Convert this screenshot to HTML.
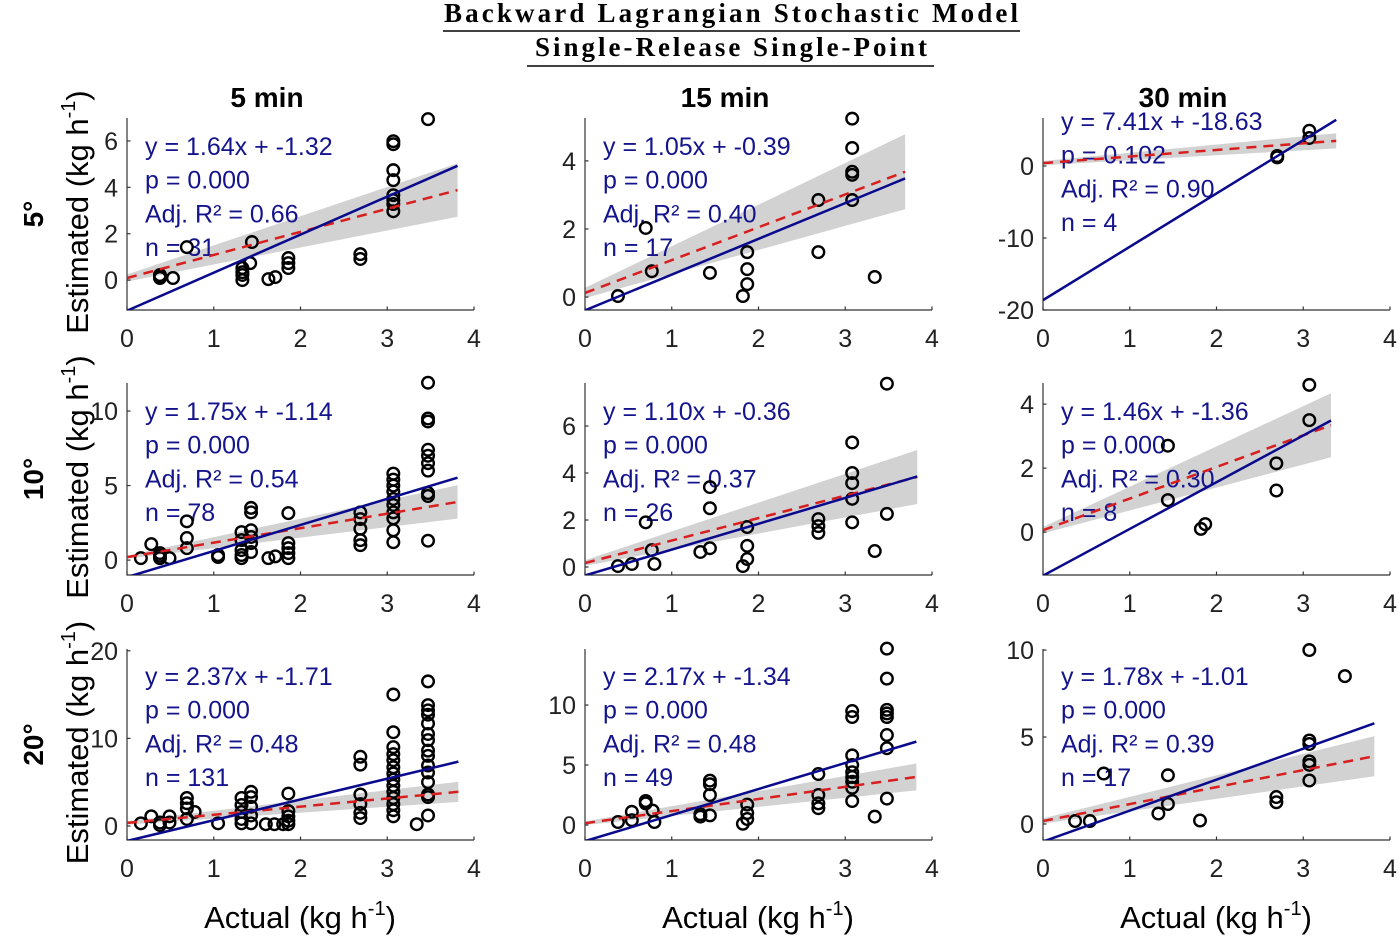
<!DOCTYPE html>
<html><head><meta charset="utf-8"><style>
html,body{margin:0;padding:0;background:#fff;}
svg{display:block;font-family:"Liberation Sans",Arial,sans-serif;}
</style></head><body>
<svg id="chart" width="1399" height="936" viewBox="0 0 1399 936">
<g>
<text x="731" y="22" text-anchor="middle" font-family="Liberation Serif, serif" font-weight="bold" font-size="27" textLength="574" lengthAdjust="spacing">Backward Lagrangian Stochastic Model</text>
<line x1="443" y1="31" x2="1020" y2="31" stroke="#000" stroke-width="1.5"/>
<text x="731" y="56" text-anchor="middle" font-family="Liberation Serif, serif" font-weight="bold" font-size="27" textLength="392" lengthAdjust="spacing">Single-Release Single-Point</text>
<line x1="527" y1="66" x2="934" y2="66" stroke="#000" stroke-width="1.5"/>
</g>
</svg>
<script>
// ---- data ----
const colTitles = ["5 min","15 min","30 min"];
const rowTitles = ["5°","10°","20°"];
const slopes = [1.64,1.05,7.41, 1.75,1.10,1.46, 2.37,2.17,1.78];
const intercepts = [-1.32,-0.39,-18.63, -1.14,-0.36,-1.36, -1.71,-1.34,-1.01];
const pLabels = ["0.000","0.000","0.102","0.000","0.000","0.000","0.000","0.000","0.000"];
const r2Labels = ["0.66","0.40","0.90","0.54","0.37","0.30","0.48","0.48","0.39"];
const nLabels = ["31","17","4","78","26","8","131","49","17"];
const redA = [0.09,0.12,0.4, 0.2,0.17,0.06, 0.35,0.15,0.17];
const redB = [0.995,0.965,0.917, 0.971,0.956,0.988, 0.93,1.01,0.976];
const bandH0 = [0.15,0.15,0.3, 0.1,0.12,0.1, 0.2,0.15,0.15];
const bandH1 = [1.15,1.1,1.05, 1.12,1.15,1.0, 1.15,1.12,1.15];
const xEnd = [3.81,3.69,3.38, 3.81,3.83,3.32, 3.82,3.82,3.82];
const yMin = [-1.29,-0.38,-20.0, -1.0,-0.34,-1.34, -1.6,-1.25,-0.92];
const yMax = [6.99,5.26,6.67, 11.88,7.83,4.66, 20.2,14.67,10.06];
const yTicks = [[0,2,4,6],[0,2,4],[-20,-10,0],[0,5,10],[0,2,4,6],[0,2,4],[0,10,20],[0,5,10],[0,5,10]];
const xTicks = [0,1,2,3,4];

const p11x = [0.38,0.38,0.38,0.53,0.69,1.44,1.42,1.33,1.33,1.33,1.33,1.63,1.71,1.86,1.86,1.86,2.69,2.69,3.07,3.07,3.07,3.07,3.07,3.07,3.07,3.07,3.47];
const p11y = [0.17,0.09,0.22,0.09,1.42,1.64,0.73,0.52,0.34,0.22,0.0,0.04,0.13,0.95,0.73,0.52,1.12,0.91,5.99,5.86,4.74,4.31,3.66,3.45,3.28,2.97,6.94];
const p12x = [0.38,0.7,0.77,1.44,1.82,1.87,1.87,1.87,2.69,2.69,3.08,3.08,3.08,3.08,3.08,3.34];
const p12y = [0.03,2.03,0.76,0.71,0.03,1.32,0.82,0.38,2.85,1.32,5.24,4.38,3.68,3.59,2.85,0.59];
const p13x = [2.7,2.7,3.07,3.07];
const p13y = [1.4,1.2,4.9,3.9];
const p21x = [0.16,0.28,0.38,0.38,0.38,0.49,0.69,0.69,0.69,1.05,1.05,1.32,1.32,1.32,1.32,1.32,1.43,1.43,1.43,1.43,1.43,1.43,1.63,1.71,1.86,1.86,1.86,1.86,1.86,2.69,2.69,2.69,2.69,2.69,3.07,3.07,3.07,3.07,3.07,3.07,3.07,3.07,3.07,3.07,3.47,3.47,3.47,3.47,3.47,3.47,3.47,3.47,3.47,3.47];
const p21y = [0.13,1.07,0.47,0.13,0.3,0.13,2.6,1.48,0.8,0.34,0.2,1.88,1.34,0.67,0.34,0.13,3.5,3.2,2.0,1.55,1.14,0.54,0.13,0.25,3.15,1.14,0.8,0.47,0.13,3.2,2.75,2.1,1.34,1.0,5.8,5.4,5.0,4.6,4.1,3.7,3.2,2.8,2.0,1.2,11.9,9.5,9.3,7.4,7.0,6.5,6.0,4.5,4.3,1.3];
const p22x = [0.38,0.54,0.7,0.77,0.8,1.33,1.44,1.44,1.44,1.82,1.87,1.87,1.87,2.69,2.69,2.69,3.08,3.08,3.08,3.08,3.08,3.34,3.48,3.48];
const p22y = [0.04,0.13,1.9,0.72,0.13,0.64,0.8,3.4,2.5,0.04,0.34,0.9,1.7,2.04,1.74,1.45,5.3,4.0,3.57,2.9,1.9,0.68,7.8,2.26];
const p23x = [1.44,1.44,1.82,1.87,2.69,2.69,3.07,3.07];
const p23y = [2.7,1.0,0.1,0.25,2.15,1.3,4.6,3.5];
const p31x = [0.16,0.28,0.38,0.38,0.49,0.49,0.69,0.69,0.69,0.69,0.78,1.05,1.32,1.32,1.32,1.32,1.32,1.43,1.43,1.43,1.43,1.43,1.6,1.7,1.8,1.86,1.86,1.86,1.86,1.86,2.69,2.69,2.69,2.69,2.69,2.69,3.07,3.07,3.07,3.07,3.07,3.07,3.07,3.07,3.07,3.07,3.07,3.07,3.07,3.07,3.34,3.47,3.47,3.47,3.47,3.47,3.47,3.47,3.47,3.47,3.47,3.47,3.47,3.47,3.47,3.47];
const p31y = [0.3,1.1,0.4,0.1,1.1,0.4,3.2,2.6,2.0,0.8,1.6,0.3,3.2,2.4,1.6,0.8,0.3,3.9,3.3,2.2,1.2,0.3,0.2,0.2,0.2,3.7,1.7,1.1,0.6,0.2,7.9,7.0,3.6,2.5,1.5,0.9,15.0,10.7,9.0,8.2,7.5,6.7,6.0,5.3,4.6,3.9,3.2,2.5,1.8,1.1,0.2,16.5,13.8,13.2,12.7,11.7,10.5,9.8,8.6,8.0,6.9,6.1,5.0,3.6,3.3,1.2];
const p32x = [0.38,0.54,0.54,0.7,0.7,0.78,0.8,1.33,1.33,1.44,1.44,1.44,1.44,1.82,1.87,1.87,1.87,2.69,2.69,2.69,2.69,3.08,3.08,3.08,3.08,3.08,3.08,3.08,3.08,3.08,3.34,3.48,3.48,3.48,3.48,3.48,3.48,3.48,3.48];
const p32y = [0.25,1.1,0.4,2.0,1.8,1.2,0.25,0.9,0.7,3.7,3.4,2.5,0.8,0.1,1.7,1.0,0.5,4.25,2.5,1.8,1.4,9.5,9.0,5.8,5.0,4.4,4.0,3.6,3.1,2.0,0.7,14.7,12.2,9.6,9.3,9.0,7.5,6.4,2.2];
const p33x = [0.37,0.54,0.7,1.33,1.44,1.44,1.81,2.69,2.69,3.07,3.07,3.07,3.07,3.07,3.07,3.48];
const p33y = [0.17,0.17,2.9,0.6,2.8,1.15,0.2,1.55,1.25,10.0,4.8,4.6,3.6,3.4,2.5,8.5];
const ptsX = [p11x,p12x,p13x,p21x,p22x,p23x,p31x,p32x,p33x];
const ptsY = [p11y,p12y,p13y,p21y,p22y,p23y,p31y,p32y,p33y];

// ---- layout ----
const colLeft = [127,585,1043];
const plotW = 347;
const rowTop = [118,383,649];
const rowBot = [310,575,840];
const annTop = [147,412,677];
const NS = "http://www.w3.org/2000/svg";
const svg = document.getElementById('chart');
function mk(tag, attrs, parent){
  const e = document.createElementNS(NS, tag);
  for (const k in attrs) e.setAttribute(k, attrs[k]);
  (parent||svg).appendChild(e);
  return e;
}

for (let c=0;c<3;c++){
  const t = mk('text',{x:colLeft[c]+140,y:107,'text-anchor':'middle','font-size':28,'font-weight':'bold'});
  
  
  t.textContent = colTitles[c];
  const xt = mk('text',{x:colLeft[c]+173,y:928,'text-anchor':'middle','font-size':31});
  
  
  xt.innerHTML = 'Actual (kg h<tspan dy="-13" font-size="20">-1</tspan><tspan dy="13">)</tspan>';
}
for (let r=0;r<3;r++){
  const cy = (rowTop[r]+rowBot[r])/2;
  const rt = mk('text',{x:0,y:0,'text-anchor':'middle','font-size':28,'font-weight':'bold',transform:`translate(43,${cy}) rotate(-90)`});
  
  
  rt.textContent = rowTitles[r];
  const yt = mk('text',{x:0,y:0,'text-anchor':'middle','font-size':31,transform:`translate(88,${cy-2}) rotate(-90)`});
  
  
  yt.innerHTML = 'Estimated (kg h<tspan dy="-13" font-size="20">-1</tspan><tspan dy="13">)</tspan>';
}

for (let r=0;r<3;r++){
  for (let c=0;c<3;c++){
    const i = r*3+c;
    const L = colLeft[c], T = rowTop[r], B = rowBot[r];
    const g = mk('g',{});
    
    
    const sx = v => L + v/4*plotW;
    const sy = v => B - (v - yMin[i])/(yMax[i]-yMin[i])*(B-T);
    const clipId = 'clip'+i;
    const cp = mk('clipPath',{id:clipId},g);
    mk('rect',{x:L,y:T-8,width:plotW,height:B-T+8},cp);
    const xe = xEnd[i];
    const up0 = redA[i]+bandH0[i], lo0 = redA[i]-bandH0[i];
    const ye = redA[i]+redB[i]*xe;
    const up1 = ye+bandH1[i], lo1 = ye-bandH1[i];
    const band = mk('polygon',{points:`${sx(0)},${sy(up0)} ${sx(xe)},${sy(up1)} ${sx(xe)},${sy(lo1)} ${sx(0)},${sy(lo0)}`,fill:'#d2d2d2','clip-path':`url(#${clipId})`},g);
    
    
    const ax = mk('path',{d:`M${L},${T} L${L},${B} L${L+plotW},${B}`,fill:'none',stroke:'#333','stroke-width':1.2},g);
    
    
    xTicks.forEach(v=>{
      mk('line',{x1:sx(v),y1:B,x2:sx(v),y2:B-3.5,stroke:'#333','stroke-width':1.2},g);
      const tl = mk('text',{x:sx(v),y:B+37,'text-anchor':'middle','font-size':25,fill:'#222'},g);
      
      
      tl.textContent = v;
    });
    yTicks[i].forEach(v=>{
      mk('line',{x1:L,y1:sy(v),x2:L+3.5,y2:sy(v),stroke:'#333','stroke-width':1.2},g);
      const tl = mk('text',{x:L-9,y:sy(v)+9,'text-anchor':'end','font-size':25,fill:'#222'},g);
      
      
      tl.textContent = v;
    });
    const ay = r===0&&c===2 ? 130 : annTop[r]+8;
    const lines = ['y = '+slopes[i].toFixed(2)+'x + '+intercepts[i].toFixed(2),'p = '+pLabels[i],'Adj. R² = '+r2Labels[i],'n = '+nLabels[i]];
    lines.forEach((s,k)=>{
      const at = mk('text',{x:L+18,y:ay+k*33.7,'font-size':25,fill:'#14148c'},g);
      
      
      at.textContent = s;
    });
    const xs = ptsX[i], ys = ptsY[i];
    for (let k=0;k<xs.length;k++){
      const pt = mk('circle',{cx:sx(xs[k]),cy:sy(ys[k]),r:5.8,fill:'none',stroke:'#000','stroke-width':2.4},g);
      
      
    }
    const rl = mk('line',{x1:sx(0),y1:sy(redA[i]),x2:sx(xe),y2:sy(ye),stroke:'#d81e1e','stroke-width':2.5,'stroke-dasharray':'10,7','clip-path':`url(#${clipId})`},g);
    
    
    const bl = mk('line',{x1:sx(0),y1:sy(intercepts[i]),x2:sx(xe),y2:sy(intercepts[i]+slopes[i]*xe),stroke:'#0a0a8c','stroke-width':2.5,'clip-path':`url(#${clipId})`},g);
    
    
  }
}
</script>
</body></html>
